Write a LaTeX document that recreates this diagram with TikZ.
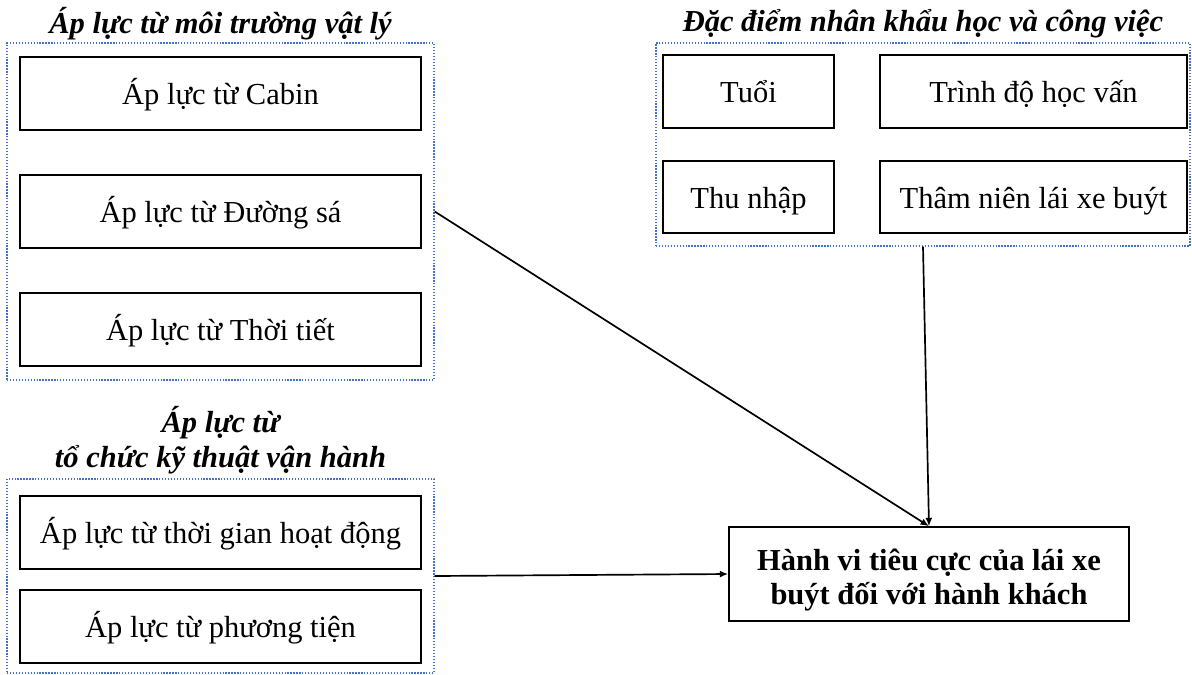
\documentclass[tikz,border=0pt]{standalone}
\usepackage{fontspec}
\setmainfont{Liberation Serif}
\usetikzlibrary{arrows.meta}
\definecolor{groupblue}{RGB}{68,114,196}

\begin{document}
\begin{tikzpicture}[
	every node/.style={inner sep=0pt},
	box/.style={draw=black, line width=1.1pt, minimum height=1.825cm, text height=21pt, text depth=5pt, font=\fontsize{21.7}{24.5}\selectfont},
	group/.style={draw=groupblue, line width=1pt, dash pattern=on 0.9pt off 1.2pt},
	heading/.style={font=\fontsize{21.7}{24.5}\selectfont\bfseries\itshape, align=center},
	link/.style={draw=black, line width=1.2pt, -{Latex[length=6pt,width=5pt]}}]
	\useasboundingbox (0,0) rectangle (29.8,-16.85);
	\node [group, minimum width=10.675cm, minimum height=8.425cm] (physical) at (5.5125,-5.2875) {};
	\node [group, minimum width=13.35cm, minimum height=5.075cm] (profile) at (23.075,-3.6125) {};
	\node [group, minimum width=10.675cm, minimum height=4.85cm] (operation) at (5.5125,-14.4) {};
	\node [heading] (physicaltitle) at (5.5125,-0.6) {Áp lực từ môi trường vật lý};
	\node [heading] (profiletitle) at (23.075,-0.6) {Đặc điểm nhân khẩu học và công việc};
	\node [heading] (operationtitle) at (5.5125,-11.0) {Áp lực từ\\tổ chức kỹ thuật vận hành};
	\node [box, minimum width=10.025cm] (cabin) at (5.5125,-2.3375) {Áp lực từ Cabin};
	\node [box, minimum width=10.025cm] (road) at (5.5125,-5.2875) {Áp lực từ Đường sá};
	\node [box, minimum width=10.025cm] (weather) at (5.5125,-8.2375) {Áp lực từ Thời tiết};
	\node [box, minimum width=4.275cm] (age) at (18.7125,-2.2875) {Tuổi};
	\node [box, minimum width=7.675cm] (education) at (25.8375,-2.2875) {Trình độ học vấn};
	\node [box, minimum width=4.275cm, minimum height=1.8cm] (income) at (18.7125,-4.925) {Thu nhập};
	\node [box, minimum width=7.675cm, minimum height=1.8cm] (seniority) at (25.8375,-4.925) {Thâm niên lái xe buýt};
	\node [box, minimum width=10.025cm] (hours) at (5.5125,-13.3125) {Áp lực từ thời gian hoạt động};
	\node [box, minimum width=10.025cm] (vehicle) at (5.5125,-15.6625) {Áp lực từ phương tiện};
	\node [box, minimum width=10cm, minimum height=2.35cm, text height=49pt, align=center, font=\fontsize{21.7}{24.5}\selectfont\bfseries] (behaviour) at (23.225,-14.35) {Hành vi tiêu cực của lái xe\\buýt đối với hành khách};
	\draw [link] (physical.east) -- (behaviour.north);
	\draw [link] (profile.south) -- (behaviour.north);
	\draw [link] (operation.east) -- (behaviour.west);
\end{tikzpicture}
\end{document}
